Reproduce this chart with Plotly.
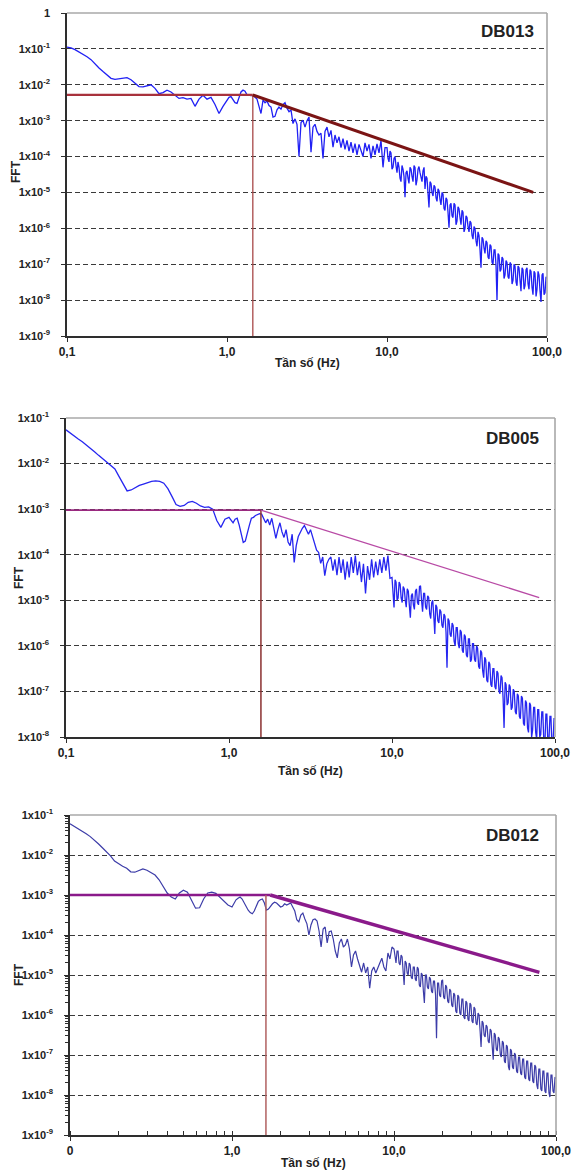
import plotly.graph_objects as go

# ---------------- data ----------------
FREQ_LOW = [0.1, 0.1059, 0.1122, 0.1189, 0.1259, 0.1334, 0.1413, 0.1496, 0.1585, 0.1679,
            0.1778, 0.1884, 0.1995, 0.2113, 0.2239, 0.2371, 0.2512, 0.2661, 0.2818, 0.2985,
            0.3162, 0.335, 0.3548, 0.3758, 0.3981, 0.4217, 0.4467, 0.4732, 0.5012, 0.5309,
            0.5623, 0.5957, 0.631, 0.6683, 0.7079, 0.7499, 0.7943, 0.8414, 0.8913, 0.9441]
FREQ_MID = [1.0, 1.029, 1.059, 1.09, 1.122, 1.155, 1.189, 1.223, 1.259, 1.296,
            1.334, 1.372, 1.413, 1.454, 1.496, 1.54, 1.585, 1.631, 1.679, 1.728,
            1.778, 1.83, 1.884, 1.939, 1.995, 2.054, 2.113, 2.175, 2.239, 2.304,
            2.371, 2.441, 2.512, 2.585, 2.661, 2.738, 2.818, 2.901, 2.985, 3.073,
            3.162, 3.255, 3.35, 3.447, 3.548, 3.652, 3.758, 3.868, 3.981, 4.097,
            4.217, 4.34, 4.467, 4.597, 4.732, 4.87, 5.012, 5.158, 5.309, 5.464,
            5.623, 5.788, 5.957, 6.131, 6.31, 6.494, 6.683, 6.879, 7.079, 7.286,
            7.499, 7.718, 7.943, 8.175, 8.414, 8.66, 8.913, 9.173, 9.441, 9.716]
FREQ_HIGH = [10.0, 10.145, 10.29, 10.44, 10.59, 10.745, 10.9, 11.06, 11.22, 11.38,
             11.55, 11.71, 11.89, 12.06, 12.23, 12.41, 12.59, 12.77, 12.96, 13.15,
             13.34, 13.53, 13.72, 13.93, 14.13, 14.33, 14.54, 14.75, 14.96, 15.18,
             15.4, 15.63, 15.85, 16.08, 16.31, 16.55, 16.79, 17.04, 17.28, 17.53,
             17.78, 18.05, 18.3, 18.57, 18.84, 19.11, 19.39, 19.67, 19.95, 20.25,
             20.54, 20.84, 21.13, 21.45, 21.75, 22.07, 22.39, 22.72, 23.04, 23.38,
             23.71, 24.06, 24.41, 24.77, 25.12, 25.49, 25.85, 26.24, 26.61, 27.0,
             27.38, 27.79, 28.18, 28.6, 29.01, 29.44, 29.85, 30.3, 30.73, 31.18,
             31.62, 32.09, 32.55, 33.03, 33.5, 34.0, 34.47, 34.99, 35.48, 36.01,
             36.52, 37.06, 37.58, 38.14, 38.68, 39.26, 39.81, 40.41, 40.97, 41.59,
             42.17, 42.8, 43.4, 44.05, 44.67, 45.34, 45.97, 46.67, 47.32, 48.03,
             48.7, 49.43, 50.12, 50.88, 51.58, 52.36, 53.09, 53.89, 54.64, 55.46,
             56.23, 57.09, 57.88, 58.75, 59.57, 60.47, 61.31, 62.24, 63.1, 64.05,
             64.94, 65.92, 66.83, 67.85, 68.79, 69.83, 70.79, 71.87, 72.86, 73.97,
             74.99, 76.13, 77.18, 78.35, 79.43, 80.64, 81.75, 82.99, 84.14, 85.42,
             86.6, 87.91, 89.13, 90.48, 91.73, 93.12, 94.41, 95.84, 97.16, 98.64,
             100.0]

# FFT amplitudes, stored as base-10 exponents
DB013_LOW = [-0.95, -0.97, -1.02, -1.08, -1.15, -1.22, -1.30, -1.42, -1.53, -1.63,
             -1.73, -1.82, -1.85, -1.83, -1.82, -1.80, -1.86, -1.95, -2.05, -2.06,
             -2.02, -2.00, -2.10, -2.25, -2.22, -2.15, -2.20, -2.30, -2.38, -2.36,
             -2.40, -2.38, -2.60, -2.40, -2.29, -2.40, -2.35, -2.55, -2.80, -2.60]
DB013_MID = [-2.45, -2.35, -2.33, -2.40, -2.50, -2.52, -2.35, -2.20, -2.15, -2.18,
             -2.28, -2.30, -2.30, -2.30, -2.35, -2.40, -2.60, -2.80, -2.43, -2.50,
             -2.45, -2.58, -2.62, -2.90, -2.88, -2.70, -2.62, -2.68, -2.55, -2.50,
             -2.65, -2.75, -2.70, -3.08, -2.95, -3.10, -4.00, -3.05, -2.99, -3.18,
             -3.00, -2.90, -3.88, -3.18, -3.10, -3.30, -3.40, -3.35, -4.05, -3.30,
             -3.18, -3.45, -3.27, -3.74, -3.40, -3.62, -3.45, -3.75, -3.50, -3.80,
             -3.55, -3.85, -3.60, -3.90, -3.64, -3.95, -3.66, -3.85, -4.00, -3.62,
             -3.85, -3.66, -4.05, -3.70, -3.95, -3.65, -3.90, -3.55, -4.30, -3.75]
DB013_HIGH = [-3.75, -4.05, -4.15, -3.85, -3.90, -4.35, -4.30, -4.05, -4.00, -4.25,
              -4.45, -4.15, -4.30, -4.60, -4.70, -4.25, -4.35, -4.55, -5.13, -4.45,
              -4.40, -4.60, -4.75, -4.30, -4.35, -4.55, -4.70, -4.25, -4.30, -4.80,
              -4.65, -4.35, -4.28, -4.45, -4.60, -4.70, -4.40, -4.30, -4.90, -4.55,
              -4.60, -4.95, -5.42, -4.70, -4.75, -5.00, -5.10, -4.80, -4.85, -5.15,
              -5.25, -4.90, -4.95, -5.20, -5.35, -5.00, -5.05, -5.45, -5.50, -5.15,
              -5.20, -5.55, -5.98, -5.35, -5.30, -5.65, -5.70, -5.30, -5.35, -5.90,
              -5.80, -5.40, -5.45, -5.70, -5.90, -5.50, -5.55, -6.10, -6.00, -5.65,
              -5.70, -5.95, -6.10, -5.80, -5.85, -6.20, -6.30, -5.95, -6.00, -6.35,
              -6.50, -6.10, -6.20, -6.60, -7.10, -6.25, -6.30, -6.55, -6.70, -6.35,
              -6.40, -6.80, -6.85, -6.45, -6.50, -6.95, -7.00, -6.60, -6.60, -7.05,
              -8.00, -6.70, -6.75, -7.20, -7.15, -6.80, -6.85, -7.40, -7.30, -6.90,
              -6.95, -7.35, -7.40, -6.95, -7.00, -7.55, -7.45, -7.00, -7.05, -7.50,
              -7.60, -7.05, -7.10, -7.45, -7.75, -7.10, -7.15, -7.70, -7.60, -7.15,
              -7.10, -7.55, -7.70, -7.15, -7.20, -7.65, -7.85, -7.20, -7.25, -7.90,
              -7.70, -7.20, -7.30, -7.75, -8.05, -7.30, -7.25, -7.85, -7.80, -7.35,
              -7.40]

DB005_LOW = [-1.26, -1.33, -1.40, -1.46, -1.52, -1.59, -1.66, -1.74, -1.82, -1.89,
             -1.97, -2.03, -2.12, -2.28, -2.45, -2.60, -2.58, -2.52, -2.48, -2.45,
             -2.42, -2.39, -2.38, -2.39, -2.43, -2.55, -2.72, -2.90, -2.94, -2.92,
             -2.85, -2.83, -2.87, -2.93, -2.96, -2.95, -3.00, -3.25, -3.40, -3.22]
DB005_MID = [-3.18, -3.25, -3.30, -3.22, -3.20, -3.35, -3.55, -3.73, -3.70, -3.50,
             -3.35, -3.20, -3.18, -3.14, -3.12, -3.10, -3.11, -3.20, -3.30, -3.22,
             -3.35, -3.20, -3.45, -3.64, -3.45, -3.30, -3.50, -3.62, -3.45, -3.72,
             -3.80, -3.55, -4.17, -3.80, -3.60, -3.50, -3.42, -3.36, -3.45, -3.55,
             -3.45, -3.60, -3.75, -3.90, -3.95, -4.19, -4.05, -4.46, -4.20, -4.10,
             -4.05, -4.35, -4.10, -4.45, -4.05, -4.40, -4.10, -4.55, -4.15, -4.50,
             -4.05, -4.40, -4.02, -4.45, -4.15, -4.60, -4.20, -4.85, -4.25, -4.55,
             -4.10, -4.50, -4.15, -4.45, -4.10, -4.40, -4.05, -4.35, -4.02, -4.52]
DB005_HIGH = [-4.50, -4.85, -5.16, -4.55, -4.60, -5.00, -4.95, -4.60, -4.65, -4.95,
              -5.05, -4.70, -4.75, -5.00, -5.15, -4.75, -4.80, -5.10, -5.38, -4.90,
              -4.85, -5.10, -5.20, -4.80, -4.75, -5.05, -5.10, -4.70, -4.68, -5.00,
              -5.25, -4.85, -4.85, -5.15, -5.20, -4.90, -4.94, -5.30, -5.40, -5.05,
              -5.00, -5.35, -5.74, -5.10, -5.15, -5.45, -5.50, -5.20, -5.25, -5.55,
              -5.60, -5.30, -5.35, -5.70, -6.48, -5.40, -5.45, -5.75, -5.80, -5.50,
              -5.55, -5.90, -6.00, -5.60, -5.60, -5.95, -6.05, -5.65, -5.70, -6.10,
              -6.15, -5.75, -5.80, -6.20, -6.25, -5.85, -5.85, -6.35, -6.30, -5.95,
              -5.95, -6.30, -6.35, -6.00, -6.05, -6.45, -6.50, -6.10, -6.15, -6.55,
              -6.70, -6.25, -6.30, -6.75, -6.80, -6.35, -6.40, -6.85, -6.90, -6.50,
              -6.50, -6.90, -6.95, -6.55, -6.60, -7.00, -7.05, -6.65, -6.70, -7.15,
              -7.80, -6.80, -6.85, -7.30, -7.25, -6.85, -6.90, -7.40, -7.35, -6.95,
              -7.00, -7.45, -7.50, -7.05, -7.10, -7.55, -7.60, -7.10, -7.15, -7.70,
              -7.75, -7.20, -7.25, -7.80, -7.90, -7.25, -7.30, -8.00, -7.85, -7.35,
              -7.35, -7.90, -8.05, -7.40, -7.40, -8.00, -7.95, -7.45, -7.45, -8.10,
              -8.20, -7.50, -7.50, -8.15, -8.10, -7.55, -7.55, -8.25, -8.15, -7.60,
              -7.60]

DB012_LOW = [-1.22, -1.28, -1.33, -1.40, -1.47, -1.54, -1.62, -1.72, -1.82, -1.92,
             -2.02, -2.15, -2.22, -2.28, -2.33, -2.42, -2.43, -2.38, -2.35, -2.38,
             -2.44, -2.50, -2.62, -2.80, -2.95, -3.05, -3.10, -2.95, -2.88, -2.93,
             -3.15, -3.33, -3.32, -3.10, -2.95, -2.93, -2.96, -3.05, -3.14, -3.25]
DB012_MID = [-3.30, -3.22, -3.12, -3.08, -3.05, -3.10, -3.20, -3.30, -3.38, -3.44,
             -3.47, -3.40, -3.28, -3.16, -3.12, -3.10, -3.20, -3.38, -3.35, -3.28,
             -3.22, -3.18, -3.20, -3.25, -3.30, -3.28, -3.22, -3.25, -3.22, -3.20,
             -3.30, -3.40, -3.62, -3.67, -3.50, -3.45, -3.60, -3.72, -4.00, -3.75,
             -3.62, -3.60, -3.65, -3.90, -4.30, -3.85, -3.80, -4.20, -3.92, -3.90,
             -4.10, -4.40, -4.57, -4.20, -4.10, -4.30, -4.25, -4.10, -4.35, -4.80,
             -4.50, -4.40, -4.60, -4.80, -4.93, -4.70, -4.95, -4.80, -5.33, -4.90,
             -4.80, -4.95, -4.80, -4.70, -4.58, -4.80, -4.90, -4.45, -4.60, -4.30]
DB012_HIGH = [-4.35, -4.60, -4.70, -4.40, -4.40, -4.70, -4.75, -4.50, -4.55, -4.90,
              -5.25, -4.65, -4.70, -4.95, -5.00, -4.70, -4.75, -5.05, -5.10, -4.80,
              -4.80, -5.10, -5.15, -4.80, -4.85, -5.25, -5.30, -4.95, -5.00, -5.40,
              -5.70, -5.00, -5.00, -5.30, -5.35, -5.05, -5.10, -5.40, -5.45, -5.15,
              -5.15, -5.50, -6.58, -5.20, -5.20, -5.50, -5.55, -5.15, -5.12, -5.55,
              -5.60, -5.25, -5.30, -5.65, -5.70, -5.35, -5.40, -5.75, -5.80, -5.45,
              -5.50, -5.90, -5.95, -5.50, -5.55, -5.95, -6.00, -5.60, -5.60, -6.05,
              -6.10, -5.65, -5.70, -6.10, -6.15, -5.70, -5.75, -6.15, -6.20, -5.80,
              -5.85, -6.20, -6.25, -5.95, -6.00, -6.40, -6.80, -6.15, -6.20, -6.50,
              -6.55, -6.25, -6.30, -6.65, -6.70, -6.35, -6.40, -6.80, -7.12, -6.45,
              -6.50, -6.85, -6.90, -6.55, -6.60, -7.00, -7.05, -6.65, -6.70, -7.15,
              -7.20, -6.75, -6.80, -7.30, -7.38, -6.85, -6.90, -7.30, -7.35, -6.95,
              -7.00, -7.40, -7.45, -7.05, -7.05, -7.45, -7.50, -7.10, -7.10, -7.55,
              -7.60, -7.15, -7.15, -7.60, -7.65, -7.20, -7.20, -7.65, -7.70, -7.25,
              -7.30, -7.75, -7.85, -7.35, -7.35, -7.85, -7.90, -7.40, -7.40, -7.90,
              -7.95, -7.45, -7.45, -7.95, -8.05, -7.50, -7.50, -7.90, -7.95, -7.55,
              -7.60]

# corner-frequency model lines: [flat level, corner freq, vertical-line freq, end freq, end level]
DB013_MODEL = [5.2e-3, 1.45, 1.45, 82.0, 1.0e-5]
DB005_MODEL = [9.5e-4, 1.57, 1.57, 80.0, 1.15e-5]
DB012_MODEL = [1.0e-3, 1.72, 1.62, 79.0, 1.17e-5]

STATIONS = ["DB013", "DB005", "DB012"]
X_TICKVALS = [0.1, 1, 10, 100]
X_TICKTEXT = [["0,1", "1,0", "10,0", "100,0"],
              ["0,1", "1,0", "10,0", "100,0"],
              ["0", "1,0", "10,0", "100,0"]]
Y_EXP_RANGES = [(-9, 0), (-8, -1), (-9, -1)]
X_TITLE = "Tần số (Hz)"
Y_TITLE = "FFT"

FREQ = FREQ_LOW + FREQ_MID + FREQ_HIGH
SERIES = [DB013_LOW + DB013_MID + DB013_HIGH,
          DB005_LOW + DB005_MID + DB005_HIGH,
          DB012_LOW + DB012_MID + DB012_HIGH]
MODELS = [DB013_MODEL, DB005_MODEL, DB012_MODEL]
for s in SERIES:
    assert len(s) == len(FREQ), (len(s), len(FREQ))

# ---------------- style / layout ----------------
OFF = 8                      # page offset of the figure (default body margin)
W, H = 580 - OFF, 1172 - OFF  # figure size so it fits in the window
# plot boxes in page pixels: left, right, top, bottom
BOXES = [(67, 547, 13, 336), (66, 555, 418, 737), (70, 556, 815, 1135)]
BLUE = ["#2020f4", "#2626f0", "#3c3ca8"]
BLUE_W = [1.3, 1.3, 1.2]
FLAT_STYLE = [("#a8323c", 2.2), ("#9a2a80", 1.6), ("#8a1a8a", 2.6)]
SLOPE_STYLE = [("#7b1414", 3.0), ("#b84aa5", 1.3), ("#8a1a8a", 3.4)]
VERT_STYLE = [("#a84848", 1.3), ("#8a3030", 1.5), ("#b06060", 1.5)]
XTITLE_Y = [363, 771, 1163]
FFT_POS = [(16, 172), (19, 578), (19, 975)]
DB_POS = [(507, 31), (512, 438), (512, 835)]
FONT = "Liberation Sans"
AX_COLOR = "#2e2e2e"


def fx(px):
    return (px - OFF) / W


def fy(py):
    return 1 - (py - OFF) / H


fig = go.Figure()
layout = dict(width=W, height=H, autosize=False,
              margin=dict(l=0, r=0, t=0, b=0, autoexpand=False),
              paper_bgcolor="white", plot_bgcolor="white",
              showlegend=False, annotations=[], shapes=[])


def ylabel(e):
    if e == 0:
        return "1"
    return "1x10<sup>%d</sup>" % e


for i in range(3):
    l, r, t, b = BOXES[i]
    sfx = "" if i == 0 else str(i + 1)
    xa, ya = "x" + sfx, "y" + sfx
    lo, hi = Y_EXP_RANGES[i]
    yvals = [10.0 ** e for e in range(lo, hi + 1)]
    ytext = [ylabel(e) for e in range(lo, hi + 1)]

    xaxis = dict(type="log", range=[-1, 2], domain=[fx(l), fx(r)], anchor=ya,
                 automargin=False, ticklabeloverflow="allow",
                 tickvals=X_TICKVALS, ticktext=X_TICKTEXT[i],
                 showline=True, linecolor=AX_COLOR, linewidth=1.6,
                 ticks="outside", ticklen=4, tickwidth=1.3, tickcolor=AX_COLOR,
                 showgrid=False, zeroline=False, ticklabelstandoff=0,
                 tickfont=dict(family=FONT, size=12, color="#222", weight="bold"))
    yaxis = dict(type="log", range=[lo, hi], domain=[fy(b), fy(t)], anchor=xa,
                 automargin=False, ticklabeloverflow="allow",
                 tickvals=yvals, ticktext=ytext,
                 showline=True, linecolor=AX_COLOR, linewidth=1.6,
                 ticks="outside", ticklen=4, tickwidth=1.3, tickcolor=AX_COLOR,
                 showgrid=True, gridcolor="#3a3a3a", gridwidth=1.3, griddash="5px,3px",
                 zeroline=False, ticklabelstandoff=9,
                 tickfont=dict(family=FONT, size=11, color="#222", weight="bold"))
    if i == 2:
        xaxis["minor"] = dict(dtick="D1", ticks="inside", ticklen=4, tickwidth=1.2,
                              tickcolor=AX_COLOR, showgrid=False)
        yaxis["minor"] = dict(dtick="D1", ticks="outside", ticklen=3, tickwidth=1.2,
                              tickcolor=AX_COLOR, showgrid=False)
    layout["xaxis" + sfx] = xaxis
    layout["yaxis" + sfx] = yaxis

    # spectrum
    fig.add_trace(go.Scatter(x=FREQ, y=[10.0 ** v for v in SERIES[i]], mode="lines",
                             line=dict(color=BLUE[i], width=BLUE_W[i]), xaxis=xa, yaxis=ya,
                             hoverinfo="skip"))
    level, corner, vf, end_f, end_v = MODELS[i]
    fig.add_trace(go.Scatter(x=[0.1, corner], y=[level, level], mode="lines",
                             line=dict(color=FLAT_STYLE[i][0], width=FLAT_STYLE[i][1]),
                             xaxis=xa, yaxis=ya))
    fig.add_trace(go.Scatter(x=[vf, vf], y=[10.0 ** lo, level], mode="lines",
                             line=dict(color=VERT_STYLE[i][0], width=VERT_STYLE[i][1]),
                             xaxis=xa, yaxis=ya))
    fig.add_trace(go.Scatter(x=[corner, end_f], y=[level, end_v], mode="lines",
                             line=dict(color=SLOPE_STYLE[i][0], width=SLOPE_STYLE[i][1]),
                             xaxis=xa, yaxis=ya))

    # light top/right frame
    for (x0, y0, x1, y1) in [(0, 1, 1, 1), (1, 0, 1, 1)]:
        layout["shapes"].append(dict(type="line", xref=xa + " domain", yref=ya + " domain",
                                     x0=x0, y0=y0, x1=x1, y1=y1,
                                     line=dict(color="#a8a8a8", width=1.6)))

    anns = layout["annotations"]
    anns.append(dict(text=X_TITLE, xref="paper", yref="paper",
                     x=fx((l + r) / 2), y=fy(XTITLE_Y[i]), showarrow=False,
                     xanchor="center", yanchor="middle",
                     font=dict(family=FONT, size=12, color="#222", weight="bold")))
    anns.append(dict(text=Y_TITLE, xref="paper", yref="paper", textangle=-90,
                     x=fx(FFT_POS[i][0]), y=fy(FFT_POS[i][1]), showarrow=False,
                     xanchor="center", yanchor="middle",
                     font=dict(family=FONT, size=12, color="#222", weight="bold")))
    anns.append(dict(text=STATIONS[i], xref="paper", yref="paper",
                     x=fx(DB_POS[i][0]), y=fy(DB_POS[i][1]), showarrow=False,
                     xanchor="center", yanchor="middle",
                     font=dict(family=FONT, size=17, color="#222", weight="bold")))

fig.update_layout(**layout)
fig.write_html("out.html")
